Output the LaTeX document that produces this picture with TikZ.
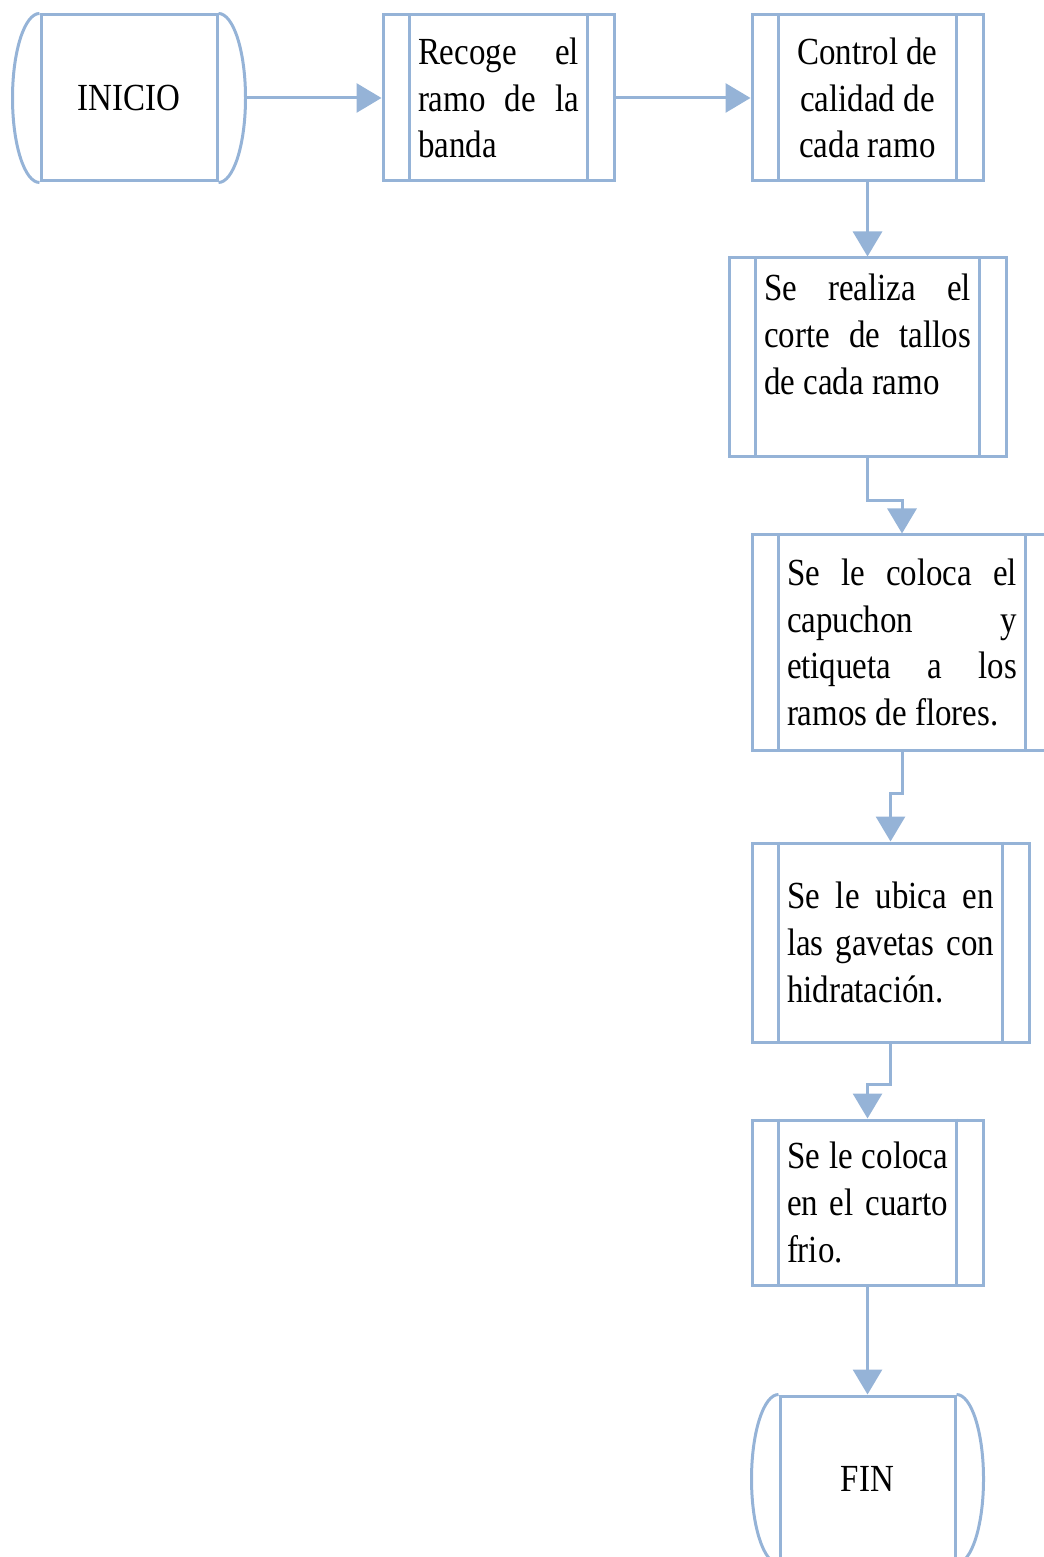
\documentclass[tikz,border=0pt]{standalone}
\usepackage{fontspec}
\setmainfont{Liberation Serif}[FakeStretch=0.86]
\usetikzlibrary{arrows.meta, positioning}
\definecolor{flowblue}{RGB}{149,179,215}

\begin{document}
\begin{tikzpicture}[
	node distance=22.5pt and 40.5pt,
	every node/.style = {font=\fontsize{11.5pt}{14pt}\selectfont},
	term/.style = {draw=flowblue, line width=0.9pt, minimum width=52.8pt, minimum height=49.8pt, inner sep=0pt},
	proc/.style = {draw=flowblue, line width=0.9pt, inner xsep=10.5pt, inner ysep=0pt, align=flush left},
	line/.style = {draw=flowblue, line width=0.9pt},
	arr/.style = {line, -{Triangle[length=7.5pt,width=8.7pt]}}
     ]
		\useasboundingbox (0,0) rectangle (312.9pt,-467.1pt);
%
		\node[term] (ini) at (38.7pt,-29.4pt) {INICIO};
		\node[proc, text width=48.3pt, minimum height=49.8pt, right=48.9pt of ini] (rec)
			{Recoge\hfill el\\ ramo\hfill de\hfill la\\ banda};
		\node[proc, text width=48.3pt, minimum height=49.8pt, align=flush center, right=of rec] (con)
			{Control de\\ calidad de\\ cada ramo};
		\node[proc, text width=62.1pt, minimum height=59.7pt, below=22.2pt of con] (cor)
			{Se\hfill realiza\hfill el\\ corte\hfill de\hfill tallos\\ de cada ramo\\ \mbox{}};
		\node[proc, text width=69pt, minimum height=64.5pt, below=of cor, xshift=10.35pt] (cap)
			{Se\hfill le\hfill coloca\hfill el\\ capuchon\hfill y\\ etiqueta\hfill a\hfill los\\ ramos de flores.};
		\node[proc, text width=62.1pt, minimum height=59.7pt, below=27pt of cap, xshift=-3.45pt] (gav)
			{Se\hfill le\hfill ubica\hfill en\\ las\hfill gavetas\hfill con\\ hidratación.};
		\node[proc, text width=48.3pt, minimum height=49.5pt, below=of gav, xshift=-6.9pt] (fri)
			{Se\hfill le\hfill coloca\\ en\hfill el\hfill cuarto\\ frio.};
		\node[term, minimum width=52.5pt, below=32.4pt of fri] (fin) {FIN};
%
		\foreach \n in {rec,con,cor,cap,gav,fri}
			\draw[line] ([xshift=8.4pt] \n.north west) -- ([xshift=8.4pt] \n.south west)
				([xshift=-8.4pt] \n.north east) -- ([xshift=-8.4pt] \n.south east);
		\foreach \n in {ini,fin}
			\draw[line] (\n.north west) arc[start angle=90, end angle=270, x radius=8.1pt, y radius=25.35pt]
				(\n.north east) arc[start angle=90, end angle=-90, x radius=8.1pt, y radius=25.35pt];
%
		\draw[arr] ([xshift=8.1pt] ini.east) -- (rec.west);
		\draw[arr] (rec.east) -- (con.west);
		\draw[arr] (con.south) -- (cor.north);
		\draw[arr] (cor.south) -- ++(0,-12.6pt) -| (cap.north);
		\draw[arr] (cap.south) -- ++(0,-12.6pt) -| (gav.north);
		\draw[arr] (gav.south) -- ++(0,-12.3pt) -| (fri.north);
		\draw[arr] (fri.south) -- (fin.north);
\end{tikzpicture}
\end{document}
